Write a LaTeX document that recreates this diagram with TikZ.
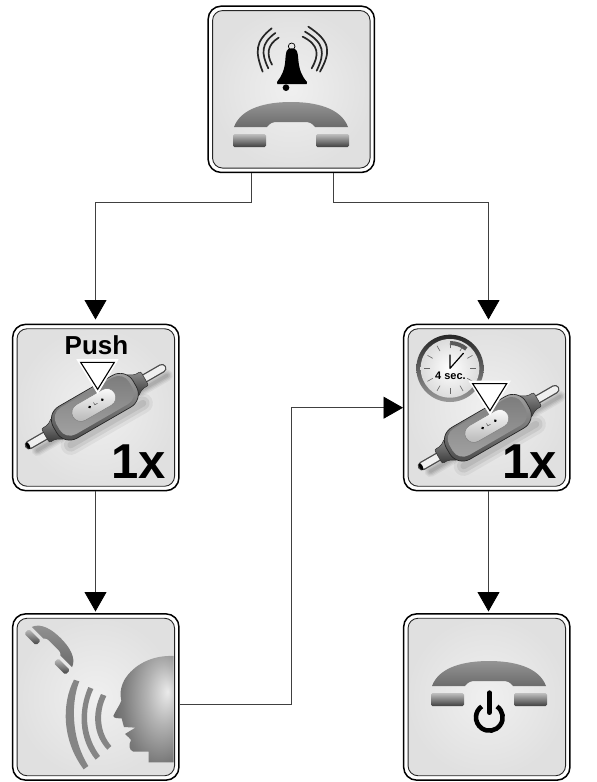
\documentclass[tikz,border=0pt]{standalone}
\usepackage{fontspec}
\setmainfont{Liberation Sans}
\usetikzlibrary{arrows.meta,calc}
\pgfdeclareradialshading{headshade}{\pgfpoint{20bp}{8bp}}{color(0bp)=(black!8);color(14bp)=(black!30);color(30bp)=(black!52);color(50bp)=(black!70);color(80bp)=(black!80)}
\tikzset{
 iconouter/.style={draw=black,line width=1.5pt,fill=white,rounded corners=13pt,minimum width=166.3pt,minimum height=166.3pt,inner sep=0pt},
 iconinner/.style={draw=black!85,line width=.9pt,rounded corners=10pt,minimum width=157.5pt,minimum height=157.5pt,inner sep=0pt,shade,inner color=black!6,outer color=black!12},
 link/.style={draw=black!75,line width=.8pt},
 flow/.style={link,-{Triangle[length=19.5pt,width=22pt,color=black]}},
 zoomed/.style={x=.33333pt,y=-.33333pt},
 bigtxt/.style={font=\fontsize{49}{49}\selectfont\bfseries,inner sep=0pt,anchor=base east},
 pushmark/.style={draw=black,line width=1.1pt,fill=white,line join=miter},
 halo/.style={draw=white,line width=3pt,fill=white},
 wavefill/.style={top color=black!48,middle color=black!22,bottom color=black!48},
}
\newcommand{\phonepart}[1]{%
 \shade[shading angle=#1,top color=black!42,bottom color=black!58]
  (-57,25) .. controls (-50,6) and (-25,0) .. (0,0) .. controls (25,0) and (50,6) .. (57,25) -- (24,25) .. controls (21,21) and (18,20) .. (14,20) -- (-14,20) .. controls (-18,20) and (-21,21) .. (-24,25) -- cycle;
 \shade[shading angle=#1,top color=black!25,bottom color=black!75,rounded corners=1.5pt]
  (-58,32) -- (-25,32) -- (-25,45) -- (-58,45) -- cycle;
 \shade[shading angle=#1,top color=black!25,bottom color=black!75,rounded corners=1.5pt]
  (25,32) -- (58,32) -- (58,45) -- (25,45) -- cycle;
}
\newcommand{\switchpart}{%
 % soft shadow
 \foreach \w/\o in {34/.05,26/.06,18/.07,10/.08}{
  \draw[black,opacity=\o,line width=\w*.33333pt,line cap=round] (-215,-26) -- (235,-26);
 }
 \foreach \w/\o in {60/.05,40/.07,20/.08}{
  \draw[black,opacity=\o,line width=\w*.33333pt,line cap=round] (-120,-62) -- (130,-62);
 }
 % cable
 \draw[black!70,line width=9pt,line cap=round] (-228,0) -- (232,0);
 \draw[black!6,line width=6.4pt,line cap=round] (-226,0) -- (232,0);
 \fill[black] (-232,0) ellipse[x radius=5,y radius=11];
 % collars
 \shade[shading angle=30,top color=black!45,bottom color=black!78,draw=black!80,line width=.5pt,rounded corners=2pt]
  (-128,-38) -- (-150,-24) -- (-172,-24) -- (-172,24) -- (-150,24) -- (-128,38) -- cycle;
 \shade[shading angle=30,top color=black!45,bottom color=black!78,draw=black!80,line width=.5pt,rounded corners=2pt]
  (128,-38) -- (150,-24) -- (172,-24) -- (172,24) -- (150,24) -- (128,38) -- cycle;
 % body
 \shade[shading angle=30,top color=black!35,bottom color=black!72,draw=black!85,line width=.7pt,rounded corners=15pt]
  (-138,-54) rectangle (138,56);
 \shade[shading angle=30,top color=black!52,bottom color=black!36,rounded corners=12pt]
  (-126,-42) rectangle (126,50);
 % button
 \shade[shading angle=30,top color=white,bottom color=black!30,draw=black!50,line width=.5pt,rounded corners=9pt]
  (-72,-20) rectangle (72,34);
 \fill[black] (-14,8) circle[radius=4.5];
 \fill[black] (30,8) circle[radius=4.5];
 \draw[black!70,line width=.5pt] (3,14) -- (3,6) -- (12,6);
}
\begin{document}
\begin{tikzpicture}[x=1pt,y=-1pt]
\useasboundingbox (0,0) rectangle (597,782);
\fill[white] (0,0) rectangle (597,782);

% boxes
\node[iconouter] (ring) at (291.3,89.3) {};
\node[iconinner] (ringin) at (ring) {};
\node[iconouter] (push) at (95.8,407.5) {};
\node[iconinner] (pushin) at (push) {};
\node[iconouter] (hold) at (486.8,407.5) {};
\node[iconinner] (holdin) at (hold) {};
\node[iconouter] (talk) at (95.8,697) {};
\node[iconinner] (talkin) at (talk) {};
\node[iconouter] (off) at (486.8,697) {};
\node[iconinner] (offin) at (off) {};

% connectors
\coordinate (ringL) at (251,173);
\coordinate (ringR) at (333.5,173);
\draw[flow] (ringL) -- (251,202.5) -- (95.5,202.5) -- (95.5,319.5);
\draw[flow] (ringR) -- (333.5,202.5) -- (488.5,202.5) -- (488.5,319.5);
\draw[flow] (95.5,490.5) -- (95.5,611.5);
\draw[flow] (488.5,490.5) -- (488.5,611.5);
\draw[flow] (talk.east |- 0,704) -- (291,704) -- (291,407.7) -- (403,407.7);

% --- ringing icon
\begin{scope}[shift={(200,0)},zoomed]
 \fill[black] (275,145) .. controls (258,145) and (258,155) .. (256,180) .. controls (254,210) and (245,228) .. (231,246) -- (232,252) -- (320,252) -- (321,246) .. controls (305,228) and (298,210) .. (295,180) .. controls (293,155) and (292,145) .. (275,145) -- cycle;
 \draw[black,line width=.7pt] (275,139) circle[radius=10];
 \fill[black] (258,263) circle[radius=10];
 \foreach \a/\b/\c/\d/\e/\f in {
   215/85/165/125/188/215, 226/99/183/130/205/205, 236/113/200/135/216/194,
   325/80/393/125/360/215, 315/95/375/130/350/212, 308/110/358/135/335/205}{
  \draw[black!85,line width=1.7pt,line cap=round] (\a,\b) .. controls (\c,\d) and (\c,\d+30) .. (\e,\f);
 }
\end{scope}
\begin{scope}[shift={(291,102)}]\phonepart{0}\end{scope}

% --- push icon
\begin{scope}[shift={(95,407)},x=.33333pt,y=.33333pt,rotate=30]\switchpart\end{scope}
\begin{scope}[shift={(5,320)},zoomed]
 \path[pushmark,halo] (222,122) -- (333,122) -- (278,214) -- cycle;
 \path[pushmark] (227,127) -- (328,127) -- (278,208) -- cycle;
\end{scope}
\node[inner sep=0pt,font=\fontsize{26}{26}\selectfont\bfseries] (pushtxt) at (96.5,345.5) {Push};
\node[bigtxt] (pushx) at (166,478.5) {1x};

% --- hold icon
\begin{scope}[shift={(395,320)},zoomed]
 \shade[top color=black!85,bottom color=black!40] (165,145) circle[radius=101];
 \shade[inner color=white,outer color=black!14] (165,145) circle[radius=88];
 \draw[black!65,line width=4pt] (165,145) ++(270:76) arc[start angle=270,end angle=310,radius=76];
 \foreach \t in {0,30,60,90,120,150,180,210,240,270,300,330}{
  \draw[black!60,line width=.6pt] ($(165,145)+(\t:60)$) -- ($(165,145)+(\t:78)$);
 }
 \draw[black,line width=1.2pt,line cap=round,line join=round] (165,105) -- (165,145) -- (205,100);
\end{scope}
\node[inner sep=0pt,font=\fontsize{11}{11}\selectfont\bfseries] (sectxt) at (450.5,375.5) {4 sec.};
\begin{scope}[shift={(488,428)},x=.33333pt,y=.33333pt,rotate=30]\switchpart\end{scope}
\begin{scope}[shift={(395,320)},zoomed]
 \path[pushmark,halo] (228,186) -- (340,186) -- (285,278) -- cycle;
 \path[pushmark] (233,191) -- (335,191) -- (285,272) -- cycle;
\end{scope}
\node[bigtxt] (holdx) at (557,478.5) {1x};

% --- talk icon
\begin{scope}[shift={(53,646)},rotate=-45,scale=.5,shift={(0,-22)}]\phonepart{-45}\end{scope}
\begin{scope}[shift={(5,610)},zoomed]
 \shade[wavefill]
  (207,209) -- (223,214) .. controls (200,270) and (195,380) .. (250,468) -- (236,478) .. controls (170,390) and (170,280) .. (207,209) -- cycle;
 \shade[wavefill]
  (250,231) -- (265,237) .. controls (235,300) and (240,380) .. (285,438) -- (272,449) .. controls (220,385) and (220,300) .. (250,231) -- cycle;
 \shade[wavefill]
  (288,252) -- (304,258) .. controls (278,310) and (285,370) .. (319,408) -- (307,419) .. controls (265,375) and (260,310) .. (288,252) -- cycle;
 \shade[shading=headshade]
  (506,138) .. controls (440,135) and (385,165) .. (358,210) .. controls (345,235) and (345,255) .. (349,272) .. controls (342,290) and (330,305) .. (325,318) .. controls (326,325) and (340,325) .. (350,325) .. controls (352,335) and (354,340) .. (357,351) -- (391,353) -- (360,372) .. controls (368,380) and (376,385) .. (378,390) .. controls (370,405) and (372,420) .. (385,425) -- (431,425) -- (431,457) -- (506,457) -- cycle;
\end{scope}

% --- off icon
\begin{scope}[shift={(489,661)}]\phonepart{0}\end{scope}
\begin{scope}[shift={(395,610)},zoomed]
 \draw[black,line width=4.6pt] (283,322) ++(305:40) arc[start angle=305,end angle=595,radius=40];
 \draw[black,line width=4.6pt,line cap=round] (283,248) -- (283,308);
\end{scope}
\end{tikzpicture}
\end{document}
